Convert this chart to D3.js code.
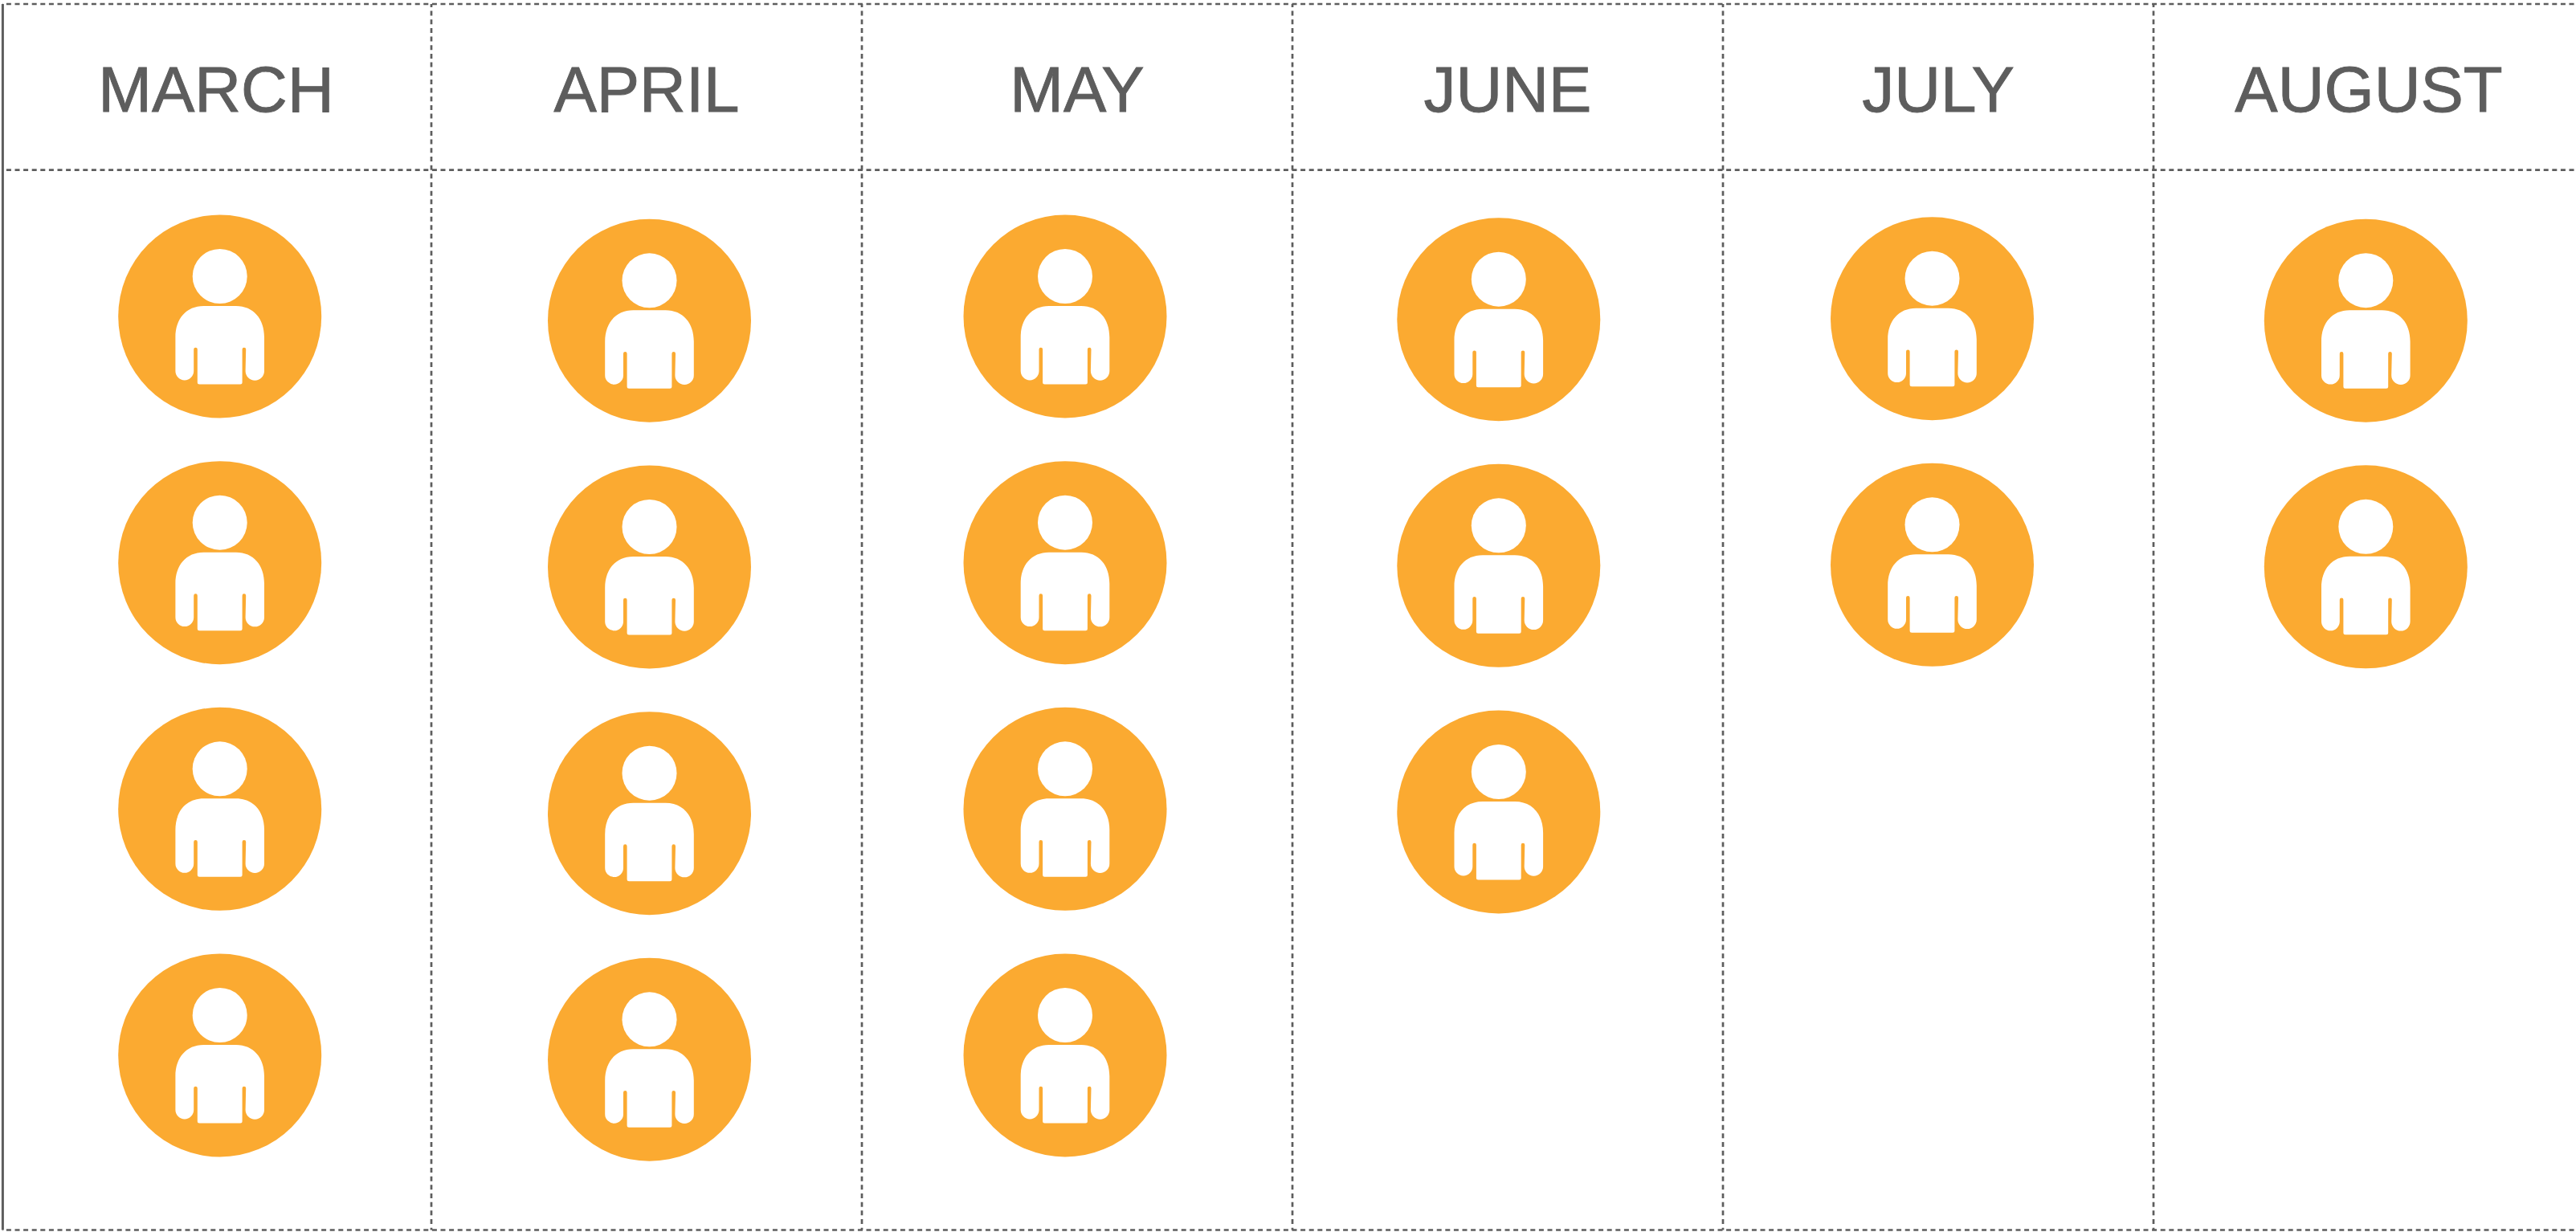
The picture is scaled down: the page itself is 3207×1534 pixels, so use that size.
<!DOCTYPE html>
<html>
<head>
<meta charset="utf-8">
<script src="https://cdn.jsdelivr.net/npm/d3@7"></script>
<style>
  html, body { margin: 0; padding: 0; background: #fff; overflow: hidden; }
  svg { display: block; }
</style>
</head>
<body>
<div id="chart"></div>
<script>
// data
const months = ["MARCH", "APRIL", "MAY", "JUNE", "JULY", "AUGUST"];
const peopleCounts = [4, 4, 4, 3, 2, 2];

const width = 3207;
const height = 1534;
const topY = 5;
const headerY = 211.7;
const bottomY = 1531.5;
const inkColor = "#5d5d5d";
const orange = "#fbaa31";
const circleRadius = 126.5;

// the icons in the picture are not quite centred in their columns
const iconNudgeX = [4.7, 3.5, -15, -11.2, -7.5, -3.7];
const iconTopY = [394, 399.3, 394, 397.7, 396.7, 399.2];

const svg = d3.select("#chart")
  .append("svg")
  .attr("width", width)
  .attr("height", height);

const x = d3.scaleBand()
  .domain(months)
  .range([1, 1 + 536 * months.length]);

const rowY = d3.scaleLinear()
  .domain([0, 3])
  .range([0, 920]);

// grid lines
const grid = svg.append("g")
  .attr("fill", "none")
  .attr("stroke", inkColor)
  .attr("stroke-width", 2.7);

grid.selectAll(".hline")
  .data([topY, headerY, bottomY])
  .enter()
  .append("line")
  .attr("class", "hline")
  .attr("x1", 3)
  .attr("x2", width)
  .attr("y1", d => d)
  .attr("y2", d => d)
  .attr("stroke-dasharray", "6 4.6")
  .attr("stroke-dashoffset", 5.7);

grid.selectAll(".vline")
  .data(months.slice(1))
  .enter()
  .append("line")
  .attr("class", "vline")
  .attr("x1", d => x(d))
  .attr("x2", d => x(d))
  .attr("y1", topY)
  .attr("y2", bottomY)
  .attr("stroke-dasharray", "6 4.67")
  .attr("stroke-dashoffset", 2.1);

grid.append("line")
  .attr("x1", 3.4)
  .attr("x2", 3.4)
  .attr("y1", topY)
  .attr("y2", bottomY)
  .attr("stroke-width", 3);

// month labels
svg.selectAll(".month")
  .data(months)
  .enter()
  .append("text")
  .attr("class", "month")
  .attr("x", d => x(d) + x.bandwidth() / 2)
  .attr("y", 138.5)
  .attr("text-anchor", "middle")
  .attr("fill", inkColor)
  .attr("stroke", inkColor)
  .attr("stroke-width", 0.9)
  .style("font-family", "'Liberation Sans', Arial, sans-serif")
  .style("font-size", "80px")
  .text(d => d);

// torso and arms, drawn around the circle centre
const bodyPath = d3.path();
bodyPath.moveTo(-20, -13);
bodyPath.lineTo(20, -13);
bodyPath.bezierCurveTo(42, -13, 55.3, 3, 55.3, 26);
bodyPath.lineTo(55.3, 68);
bodyPath.arc(43.6, 68, 11.7, 0, Math.PI, false);
bodyPath.lineTo(32.5, 41);
bodyPath.arc(30.2, 41, 2.3, 0, Math.PI, true);
bodyPath.lineTo(27.9, 82);
bodyPath.quadraticCurveTo(27.9, 84.5, 25.4, 84.5);
bodyPath.lineTo(-25.4, 84.5);
bodyPath.quadraticCurveTo(-27.9, 84.5, -27.9, 82);
bodyPath.lineTo(-27.9, 41);
bodyPath.arc(-30.2, 41, 2.3, 0, Math.PI, true);
bodyPath.lineTo(-32.5, 68);
bodyPath.arc(-43.9, 68, 11.4, 0, Math.PI, false);
bodyPath.lineTo(-55.3, 26);
bodyPath.bezierCurveTo(-55.3, 3, -42, -13, -20, -13);
bodyPath.closePath();

// one entry per person
const people = months.flatMap((m, i) =>
  d3.range(peopleCounts[i]).map(row => ({ month: m, col: i, row }))
);

const icon = svg.selectAll(".person")
  .data(people)
  .enter()
  .append("g")
  .attr("class", "person")
  .attr("transform", d => {
    const cx = x(d.month) + x.bandwidth() / 2 + iconNudgeX[d.col];
    const cy = iconTopY[d.col] + rowY(d.row);
    return `translate(${cx},${cy})`;
  });

icon.append("circle")
  .attr("r", circleRadius)
  .attr("fill", orange);

icon.append("circle")
  .attr("cy", -50)
  .attr("r", 34)
  .attr("fill", "#fff");

icon.append("path")
  .attr("d", bodyPath.toString())
  .attr("fill", "#fff");
</script>
</body>
</html>
